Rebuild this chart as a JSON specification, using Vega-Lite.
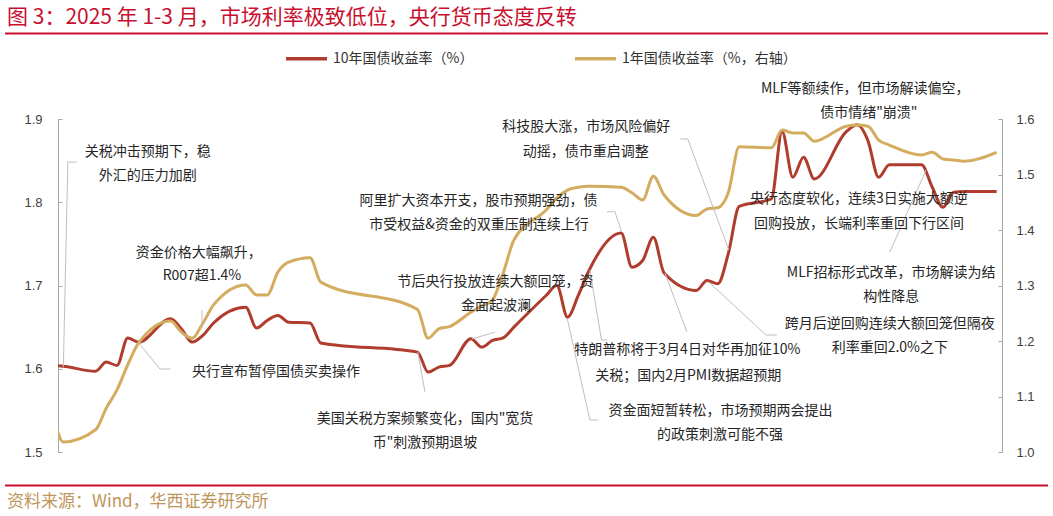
{
  "$schema": "https://vega.github.io/schema/vega-lite/v6.json",
  "width": 944,
  "height": 333,
  "autosize": {"type": "none"},
  "padding": {"left": 58, "top": 119, "right": 51, "bottom": 64},
  "background": "white",
  "config": {
    "view": {"stroke": null},
    "axis": {
      "grid": false,
      "domainColor": "#A6A6A6",
      "tickColor": "#A6A6A6",
      "labelColor": "#404040",
      "labelFont": "Liberation Sans",
      "labelFontSize": 13,
      "tickSize": -4
    },
    "legend": {
      "orient": "none",
      "legendX": 226,
      "legendY": -83,
      "direction": "horizontal",
      "symbolType": "stroke",
      "symbolStrokeWidth": 3.5,
      "symbolSize": 1681,
      "labelFont": "Noto Sans CJK SC",
      "labelFontSize": 14,
      "labelColor": "#333333",
      "labelOffset": 4,
      "labelLimit": 300,
      "columnPadding": 94
    }
  },
  "datasets": {
    "rates": [
      {"date": "2025-01-02", "y10": 1.604, "y1": 1.072},
      {"date": "2025-01-03", "y10": 1.603, "y1": 1.018},
      {"date": "2025-01-06", "y10": 1.597, "y1": 1.040},
      {"date": "2025-01-07", "y10": 1.608, "y1": 1.079},
      {"date": "2025-01-08", "y10": 1.604, "y1": 1.112},
      {"date": "2025-01-09", "y10": 1.637, "y1": 1.157},
      {"date": "2025-01-10", "y10": 1.632, "y1": 1.196},
      {"date": "2025-01-13", "y10": 1.660, "y1": 1.236},
      {"date": "2025-01-14", "y10": 1.648, "y1": 1.216},
      {"date": "2025-01-15", "y10": 1.632, "y1": 1.205},
      {"date": "2025-01-16", "y10": 1.640, "y1": 1.232},
      {"date": "2025-01-17", "y10": 1.655, "y1": 1.265},
      {"date": "2025-01-20", "y10": 1.674, "y1": 1.301},
      {"date": "2025-01-21", "y10": 1.649, "y1": 1.283},
      {"date": "2025-01-22", "y10": 1.658, "y1": 1.283},
      {"date": "2025-01-23", "y10": 1.664, "y1": 1.324},
      {"date": "2025-01-24", "y10": 1.656, "y1": 1.342},
      {"date": "2025-01-26", "y10": 1.655, "y1": 1.350},
      {"date": "2025-01-27", "y10": 1.631, "y1": 1.306},
      {"date": "2025-02-05", "y10": 1.620, "y1": 1.257},
      {"date": "2025-02-06", "y10": 1.596, "y1": 1.205},
      {"date": "2025-02-07", "y10": 1.602, "y1": 1.222},
      {"date": "2025-02-08", "y10": 1.604, "y1": 1.226},
      {"date": "2025-02-10", "y10": 1.636, "y1": 1.252},
      {"date": "2025-02-11", "y10": 1.626, "y1": 1.263},
      {"date": "2025-02-12", "y10": 1.634, "y1": 1.274},
      {"date": "2025-02-13", "y10": 1.637, "y1": 1.322},
      {"date": "2025-02-14", "y10": 1.650, "y1": 1.382},
      {"date": "2025-02-17", "y10": 1.688, "y1": 1.436},
      {"date": "2025-02-18", "y10": 1.700, "y1": 1.458},
      {"date": "2025-02-19", "y10": 1.662, "y1": 1.472},
      {"date": "2025-02-20", "y10": 1.688, "y1": 1.477},
      {"date": "2025-02-21", "y10": 1.718, "y1": 1.479},
      {"date": "2025-02-24", "y10": 1.763, "y1": 1.477},
      {"date": "2025-02-25", "y10": 1.722, "y1": 1.467},
      {"date": "2025-02-26", "y10": 1.730, "y1": 1.454},
      {"date": "2025-02-27", "y10": 1.758, "y1": 1.497},
      {"date": "2025-02-28", "y10": 1.715, "y1": 1.463},
      {"date": "2025-03-03", "y10": 1.694, "y1": 1.426},
      {"date": "2025-03-04", "y10": 1.706, "y1": 1.438},
      {"date": "2025-03-05", "y10": 1.702, "y1": 1.440},
      {"date": "2025-03-06", "y10": 1.739, "y1": 1.468},
      {"date": "2025-03-07", "y10": 1.795, "y1": 1.550},
      {"date": "2025-03-10", "y10": 1.804, "y1": 1.548},
      {"date": "2025-03-11", "y10": 1.885, "y1": 1.580},
      {"date": "2025-03-12", "y10": 1.830, "y1": 1.575},
      {"date": "2025-03-13", "y10": 1.854, "y1": 1.575},
      {"date": "2025-03-14", "y10": 1.828, "y1": 1.560},
      {"date": "2025-03-17", "y10": 1.885, "y1": 1.587},
      {"date": "2025-03-18", "y10": 1.893, "y1": 1.589},
      {"date": "2025-03-19", "y10": 1.874, "y1": 1.587},
      {"date": "2025-03-20", "y10": 1.830, "y1": 1.562},
      {"date": "2025-03-21", "y10": 1.845, "y1": 1.553},
      {"date": "2025-03-24", "y10": 1.845, "y1": 1.535},
      {"date": "2025-03-25", "y10": 1.818, "y1": 1.540},
      {"date": "2025-03-26", "y10": 1.794, "y1": 1.528},
      {"date": "2025-03-27", "y10": 1.812, "y1": 1.526},
      {"date": "2025-03-28", "y10": 1.813, "y1": 1.524},
      {"date": "2025-03-31", "y10": 1.813, "y1": 1.540}
    ],
    "notes": [
      {"date": "2025-01-10T21:00:00Z", "y": 1.860, "text": "关税冲击预期下，稳"},
      {"date": "2025-01-10T21:00:00Z", "y": 1.8315, "text": "外汇的压力加剧"},
      {"date": "2025-01-15T15:00:00Z", "y": 1.739, "text": "资金价格大幅飙升，"},
      {"date": "2025-01-15T22:00:00Z", "y": 1.711, "text": "R007超1.4%"},
      {"date": "2025-01-22T20:00:00Z", "y": 1.596, "text": "央行宣布暂停国债买卖操作"},
      {"date": "2025-02-05T17:00:00Z", "y": 1.5396, "text": "美国关税方案频繁变化，国内\"宽货"},
      {"date": "2025-02-05T17:00:00Z", "y": 1.5108, "text": "币\"刺激预期退坡"},
      {"date": "2025-02-12T07:00:00Z", "y": 1.7042, "text": "节后央行投放连续大额回笼，资"},
      {"date": "2025-02-12T08:00:00Z", "y": 1.6754, "text": "金面起波澜"},
      {"date": "2025-02-10T17:00:00Z", "y": 1.8015, "text": "阿里扩大资本开支，股市预期强劲，债"},
      {"date": "2025-02-10T18:00:00Z", "y": 1.7727, "text": "市受权益&资金的双重压制连续上行"},
      {"date": "2025-02-20T18:00:00Z", "y": 1.8904, "text": "科技股大涨，市场风险偏好"},
      {"date": "2025-02-20T17:00:00Z", "y": 1.8604, "text": "动摇，债市重启调整"},
      {"date": "2025-03-02T04:00:00Z", "y": 1.6225, "text": "特朗普称将于3月4日对华再加征10%"},
      {"date": "2025-03-02T06:00:00Z", "y": 1.5913, "text": "关税；国内2月PMI数据超预期"},
      {"date": "2025-03-05T06:00:00Z", "y": 1.5492, "text": "资金面短暂转松，市场预期两会提出"},
      {"date": "2025-03-05T05:00:00Z", "y": 1.5204, "text": "的政策刺激可能不强"},
      {"date": "2025-03-18T18:00:00Z", "y": 1.936, "text": "MLF等额续作，但市场解读偏空，"},
      {"date": "2025-03-19T02:00:00Z", "y": 1.9072, "text": "债市情绪\"崩溃\""},
      {"date": "2025-03-18T04:00:00Z", "y": 1.8039, "text": "央行态度软化，连续3日实施大额逆"},
      {"date": "2025-03-18T04:00:00Z", "y": 1.7739, "text": "回购投放，长端利率重回下行区间"},
      {"date": "2025-03-21T04:00:00Z", "y": 1.715, "text": "MLF招标形式改革，市场解读为结"},
      {"date": "2025-03-21T04:00:00Z", "y": 1.6862, "text": "构性降息"},
      {"date": "2025-03-21T01:00:00Z", "y": 1.6538, "text": "跨月后逆回购连续大额回笼但隔夜"},
      {"date": "2025-03-21T01:00:00Z", "y": 1.6249, "text": "利率重回2.0%之下"}
    ],
    "leaders": [
      {"id": "A", "o": 1, "date": "2025-01-04T06:00:00Z", "y": 1.8483},
      {"id": "A", "o": 2, "date": "2025-01-03T10:00:00Z", "y": 1.8483},
      {"id": "A", "o": 3, "date": "2025-01-03T00:00:00Z", "y": 1.6021},
      {"id": "B", "o": 1, "date": "2025-01-15T22:00:00Z", "y": 1.6706},
      {"id": "B", "o": 2, "date": "2025-01-15T22:00:00Z", "y": 1.649},
      {"id": "C", "o": 1, "date": "2025-01-09T23:00:00Z", "y": 1.6321},
      {"id": "C", "o": 2, "date": "2025-01-12T00:00:00Z", "y": 1.5997},
      {"id": "C", "o": 3, "date": "2025-01-12T23:00:00Z", "y": 1.5997},
      {"id": "D", "o": 1, "date": "2025-02-05T01:00:00Z", "y": 1.6201},
      {"id": "D", "o": 2, "date": "2025-02-05T17:00:00Z", "y": 1.5721},
      {"id": "E", "o": 1, "date": "2025-02-10T02:00:00Z", "y": 1.6357},
      {"id": "E", "o": 2, "date": "2025-02-12T06:00:00Z", "y": 1.6441},
      {"id": "F", "o": 1, "date": "2025-02-22T16:00:00Z", "y": 1.7886},
      {"id": "F", "o": 2, "date": "2025-02-23T10:00:00Z", "y": 1.7886},
      {"id": "F", "o": 3, "date": "2025-02-24T01:00:00Z", "y": 1.7646},
      {"id": "G", "o": 1, "date": "2025-03-01T12:00:00Z", "y": 1.876},
      {"id": "G", "o": 2, "date": "2025-03-02T05:00:00Z", "y": 1.876},
      {"id": "G", "o": 3, "date": "2025-03-06T01:00:00Z", "y": 1.7426},
      {"id": "Ha", "o": 1, "date": "2025-02-21T02:00:00Z", "y": 1.7186},
      {"id": "Ha", "o": 2, "date": "2025-02-22T04:00:00Z", "y": 1.6345},
      {"id": "Ha", "o": 3, "date": "2025-02-22T16:00:00Z", "y": 1.6345},
      {"id": "Hb", "o": 1, "date": "2025-02-28T02:00:00Z", "y": 1.715},
      {"id": "Hb", "o": 2, "date": "2025-03-02T03:00:00Z", "y": 1.6441},
      {"id": "I", "o": 1, "date": "2025-02-18T23:00:00Z", "y": 1.661},
      {"id": "I", "o": 2, "date": "2025-02-21T02:00:00Z", "y": 1.5384},
      {"id": "I", "o": 3, "date": "2025-02-21T20:00:00Z", "y": 1.5384},
      {"id": "L", "o": 1, "date": "2025-03-21T01:00:00Z", "y": 1.7402},
      {"id": "L", "o": 2, "date": "2025-03-24T10:00:00Z", "y": 1.8387},
      {"id": "M", "o": 1, "date": "2025-03-04T04:00:00Z", "y": 1.7042},
      {"id": "M", "o": 2, "date": "2025-03-09T12:00:00Z", "y": 1.6405},
      {"id": "M", "o": 3, "date": "2025-03-10T12:00:00Z", "y": 1.6405}
    ]
  },
  "layer": [
    {
      "data": {"name": "rates"},
      "mark": {"type": "line", "interpolate": "monotone", "strokeWidth": 3, "clip": true},
      "encoding": {
        "x": {
          "field": "date", "type": "temporal",
          "scale": {"type": "utc", "domain": [{"year": 2025, "month": 1, "date": 2, "hours": 12, "utc": true}, {"year": 2025, "month": 3, "date": 31, "hours": 12, "utc": true}]},
          "axis": {
            "title": null,
            "values": [
              {"year": 2025, "month": 1, "date": 3, "utc": true},
              {"year": 2025, "month": 1, "date": 10, "utc": true},
              {"year": 2025, "month": 1, "date": 17, "utc": true},
              {"year": 2025, "month": 1, "date": 24, "utc": true},
              {"year": 2025, "month": 1, "date": 31, "utc": true},
              {"year": 2025, "month": 2, "date": 7, "utc": true},
              {"year": 2025, "month": 2, "date": 14, "utc": true},
              {"year": 2025, "month": 2, "date": 21, "utc": true},
              {"year": 2025, "month": 2, "date": 28, "utc": true},
              {"year": 2025, "month": 3, "date": 7, "utc": true},
              {"year": 2025, "month": 3, "date": 14, "utc": true},
              {"year": 2025, "month": 3, "date": 21, "utc": true},
              {"year": 2025, "month": 3, "date": 28, "utc": true}
            ],
            "labelExpr": "utcFormat(datum.value, '%m-%d')",
            "tickOffset": -5.36,
            "labelOffset": 5.36,
            "labelPadding": 12
          }
        },
        "y": {
          "field": "y10", "type": "quantitative",
          "scale": {"domain": [1.5, 1.9], "nice": false, "zero": false},
          "axis": {"orient": "left", "title": null, "values": [1.5, 1.6, 1.7, 1.8, 1.9], "format": ".1f", "labelPadding": 20}
        },
        "color": {
          "datum": "10年国债收益率（%）", "type": "nominal",
          "scale": {"domain": ["10年国债收益率（%）", "1年国债收益率（%，右轴）"], "range": ["#B03C2D", "#D4AC60"]},
          "legend": {"title": null}
        }
      }
    },
    {
      "data": {"name": "rates"},
      "mark": {"type": "line", "interpolate": "monotone", "strokeWidth": 3, "clip": true},
      "encoding": {
        "x": {
          "field": "date", "type": "temporal",
          "scale": {"type": "utc", "domain": [{"year": 2025, "month": 1, "date": 2, "hours": 12, "utc": true}, {"year": 2025, "month": 3, "date": 31, "hours": 12, "utc": true}]},
          "axis": null
        },
        "y": {
          "field": "y1", "type": "quantitative",
          "scale": {"domain": [1.0, 1.6], "nice": false, "zero": false},
          "axis": {"orient": "right", "title": null, "values": [1.0, 1.1, 1.2, 1.3, 1.4, 1.5, 1.6], "format": ".1f", "labelPadding": 18}
        },
        "color": {
          "datum": "1年国债收益率（%，右轴）", "type": "nominal",
          "scale": {"domain": ["10年国债收益率（%）", "1年国债收益率（%，右轴）"], "range": ["#B03C2D", "#D4AC60"]},
          "legend": {"title": null}
        }
      }
    },
    {
      "layer": [
        {
          "data": {"name": "leaders"},
          "mark": {"type": "line", "color": "#BFBFBF", "strokeWidth": 1},
          "encoding": {
            "x": {"field": "date", "type": "temporal", "scale": {"type": "utc", "domain": [{"year": 2025, "month": 1, "date": 2, "hours": 12, "utc": true}, {"year": 2025, "month": 3, "date": 31, "hours": 12, "utc": true}]}, "axis": null},
            "y": {"field": "y", "type": "quantitative", "scale": {"domain": [1.5, 1.9], "nice": false, "zero": false}, "axis": null},
            "detail": {"field": "id", "type": "nominal"},
            "order": {"field": "o", "type": "quantitative"}
          }
        },
        {
          "data": {"name": "notes"},
          "mark": {"type": "text", "font": "Noto Sans CJK SC", "fontSize": 14, "color": "#262626", "align": "center", "baseline": "middle"},
          "encoding": {
            "x": {"field": "date", "type": "temporal", "axis": null},
            "y": {"field": "y", "type": "quantitative", "axis": null},
            "text": {"field": "text", "type": "nominal"}
          }
        },
        {
          "data": {"values": [{}]},
          "mark": {"type": "text", "font": "Noto Sans CJK SC", "fontSize": 21, "color": "#C8102E", "align": "left", "baseline": "middle"},
          "encoding": {
            "x": {"datum": {"year": 2024, "month": 12, "date": 28, "hours": 18, "utc": true}, "type": "temporal", "axis": null},
            "y": {"datum": 2.0219, "type": "quantitative", "axis": null},
            "text": {"value": "图 3：2025 年 1-3 月，市场利率极致低位，央行货币态度反转"}
          }
        },
        {
          "data": {"values": [{}]},
          "mark": {"type": "rule", "color": "#C8102E", "strokeWidth": 2},
          "encoding": {
            "x": {"datum": {"year": 2024, "month": 12, "date": 28, "hours": 13, "minutes": 30, "utc": true}, "type": "temporal", "axis": null},
            "x2": {"datum": {"year": 2025, "month": 4, "date": 4, "hours": 19, "utc": true}},
            "y": {"datum": 2.0027, "type": "quantitative", "axis": null}
          }
        },
        {
          "data": {"values": [{}]},
          "mark": {"type": "rule", "color": "#C8102E", "strokeWidth": 2},
          "encoding": {
            "x": {"datum": {"year": 2024, "month": 12, "date": 28, "hours": 13, "minutes": 30, "utc": true}, "type": "temporal", "axis": null},
            "x2": {"datum": {"year": 2025, "month": 4, "date": 4, "hours": 19, "utc": true}},
            "y": {"datum": 1.4598, "type": "quantitative", "axis": null}
          }
        },
        {
          "data": {"values": [{}]},
          "mark": {"type": "text", "font": "Noto Sans CJK SC", "fontSize": 17, "color": "#BE965A", "align": "left", "baseline": "middle"},
          "encoding": {
            "x": {"datum": {"year": 2024, "month": 12, "date": 28, "hours": 18, "utc": true}, "type": "temporal", "axis": null},
            "y": {"datum": 1.4403, "type": "quantitative", "axis": null},
            "text": {"value": "资料来源：Wind，华西证券研究所"}
          }
        }
      ]
    }
  ],
  "resolve": {"scale": {"y": "independent"}}
}
